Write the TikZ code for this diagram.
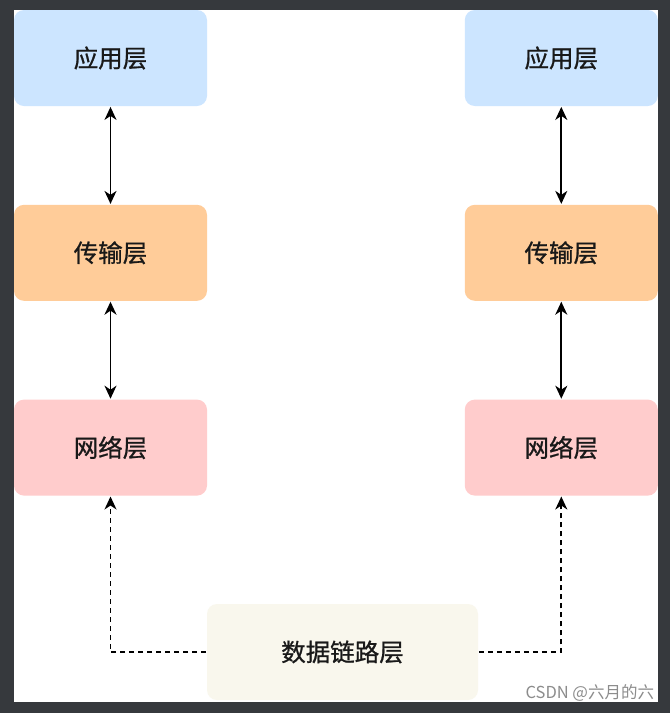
\documentclass[tikz,border=0pt]{standalone}
\usepackage{fontspec}
\setmainfont{Noto Sans CJK SC}
\newfontfamily\layerfont{Noto Sans CJK SC}[BoldFont={Noto Sans CJK SC}, BoldFeatures={FakeBold=0.9}]
\usetikzlibrary{arrows.meta, positioning, graphs}
\definecolor{frame}{HTML}{36393D}
\definecolor{appblue}{HTML}{CCE5FF}
\definecolor{transorange}{HTML}{FFCC99}
\definecolor{netpink}{HTML}{FFCCCC}
\definecolor{linkcream}{HTML}{F9F7ED}
\tikzset{
node distance=97pt,
>={Stealth[length=13pt,width=12pt,inset=4pt]},
hv path/.style={to path={-| (\tikztotarget)}},
layer/.style={%
    rectangle,
    minimum width=193pt,
    minimum height=96pt,
    rounded corners=10pt,
    draw=none,
    text=black!90,
    % Font
    font=\layerfont\bfseries\fontsize{24.5}{28}\selectfont
},
app/.style={layer, fill=appblue},
trans/.style={layer, fill=transorange},
net/.style={layer, fill=netpink},
link/.style={layer, fill=linkcream, minimum width=271pt},
watermark/.style={text=black!45, font=\fontsize{16.5}{18}\selectfont, inner sep=1pt},
}

\begin{document}
\begin{tikzpicture}[x=1pt, y=-1pt, line width=1.8pt]
	\useasboundingbox (0,0) rectangle (670,713);
	\fill[frame] (0,0) rectangle (670,713);
	\fill[white] (14,10) rectangle (658,702);

	\node[app] (appL) at (110.5,58) {应用层};
	\node[trans, below=of appL] (transL) {传输层};
	\node[net, below=of transL] (netL) {网络层};
	\node[app, right=256pt of appL] (appR) {应用层};
	\node[trans, below=of appR] (transR) {传输层};
	\node[net, below=of transR] (netR) {网络层};
	\node[link] (link) at (342.5,652) {数据链路层};

\graph [use existing nodes] {
appL <-> transL <-> netL;
appR <-> transR <-> netR;
link ->[hv path, dash pattern=on 5pt off 4pt] {netL, netR};
};

	\node[watermark, anchor=south east] (csdn) at (656,703) {CSDN @六月的六};
\end{tikzpicture}
\end{document}
